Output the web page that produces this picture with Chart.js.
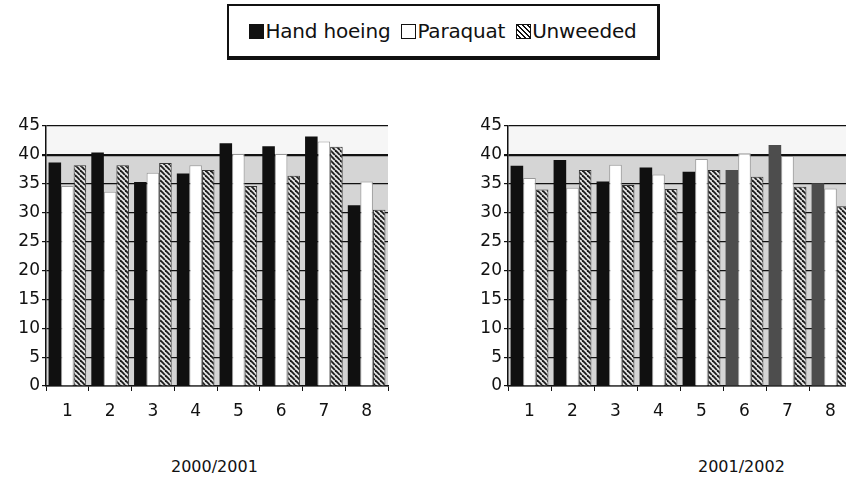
<!DOCTYPE html>
<html>
<head>
<meta charset="utf-8">
<script src="https://cdn.jsdelivr.net/npm/chart.js@4"></script>
<style>
  html, body { margin: 0; padding: 0; background: #fff; width: 846px; height: 484px; overflow: hidden; }
  body { position: relative; font-family: "DejaVu Sans", sans-serif; color: #111; }
  .wrap { position: absolute; }
  #legend {
    position: absolute; left: 227px; top: 4px; width: 428px; height: 50px;
    border: 2px solid #111; border-bottom-width: 4px; border-right-width: 3px;
    display: flex; align-items: center; justify-content: center;
    font-size: 20px; white-space: nowrap; background: #fff; letter-spacing: -0.2px;
  }
  #legend span.k { display: inline-block; width: 15px; height: 15px; margin-right: 1px; box-sizing: border-box; }
  #legend span.t { margin-right: 11px; }
  .k1 { background: #111; }
  .k2 { background: #fff; border: 1.5px solid #111; }
  .k3 { border: 1.5px solid #111; background: repeating-linear-gradient(45deg, #fff 0 2px, #111 2px 3.5px); }
  .yr { position: absolute; top: 457px; font-size: 16px; }
</style>
</head>
<body>
<div id="legend">
  <span class="k k1"></span><span class="t">Hand hoeing</span>
  <span class="k k2"></span><span class="t">Paraquat</span>
  <span class="k k3"></span><span class="t" style="margin-right:0">Unweeded</span>
</div>
<div class="wrap" style="left:0px;top:110px;width:392px;height:320px;"><canvas id="c1"></canvas></div>
<div class="wrap" style="left:462px;top:110px;width:400px;height:320px;"><canvas id="c2"></canvas></div>
<div class="yr" style="left:171px;">2000/2001</div>
<div class="yr" style="left:698px;">2001/2002</div>
<script>
const categories = ["1", "2", "3", "4", "5", "6", "7", "8"];
const seriesNames = ["Hand hoeing", "Paraquat", "Unweeded"];
const yTicks = [0, 5, 10, 15, 20, 25, 30, 35, 40, 45];

// 2000/2001
const hand2000 = [38.7, 40.4, 35.3, 36.8, 42.0, 41.5, 43.2, 31.3];
const paraquat2000 = [34.6, 33.6, 36.9, 38.2, 40.2, 40.2, 42.3, 35.4];
const unweeded2000 = [38.2, 38.2, 38.6, 37.4, 34.6, 36.4, 41.4, 30.5];

// 2001/2002
const hand2001 = [38.1, 39.1, 35.4, 37.8, 37.1, 37.4, 41.7, 35.1];
const paraquat2001 = [36.0, 34.3, 38.3, 36.6, 39.3, 40.3, 39.8, 34.2];
const unweeded2001 = [34.0, 37.4, 34.8, 34.1, 37.4, 36.2, 34.5, 31.1];

function hatch() {
    const c = document.createElement("canvas");
    c.width = 5;
    c.height = 5;
    const g = c.getContext("2d");
    g.fillStyle = "#e4e4e4";
    g.fillRect(0, 0, 5, 5);
    g.strokeStyle = "#1a1a1a";
    g.lineWidth = 1.8;
    for (let x = -5; x <= 5; x += 5) {
        g.beginPath();
        g.moveTo(x, 0);
        g.lineTo(x + 5, 5);
        g.stroke();
    }
    return g.createPattern(c, "repeat");
}

const wallPlugin = {
    id: "wall",
    beforeDraw(chart) {
        const a = chart.chartArea;
        const y = chart.scales.y;
        const ctx = chart.ctx;
        const y40 = y.getPixelForValue(40);
        ctx.save();
        ctx.fillStyle = "#f6f6f6";
        ctx.fillRect(a.left, a.top, a.width, y40 - a.top);
        ctx.fillStyle = "#d5d5d5";
        ctx.fillRect(a.left, y40, a.width, a.bottom - y40);
        ctx.restore();
    },
};

function makeChart(id, hand, paraquat, unweeded, fadeFrom, padRight) {
    const darkColor = (ctx) => (ctx.dataIndex >= fadeFrom ? "#4d4d4d" : "#101010");
    new Chart(document.getElementById(id), {
        type: "bar",
        data: {
            labels: categories,
            datasets: [
                { label: seriesNames[0], data: hand, backgroundColor: darkColor, borderWidth: 0 },
                { label: seriesNames[1], data: paraquat, backgroundColor: "#ffffff", borderColor: "#9a9a9a", borderWidth: 1 },
                { label: seriesNames[2], data: unweeded, backgroundColor: hatch(), borderColor: "#333", borderWidth: 1 },
            ],
        },
        options: {
            responsive: true,
            maintainAspectRatio: false,
            animation: false,
            layout: { padding: { top: 16, right: padRight, left: 0, bottom: 0 } },
            datasets: { bar: { categoryPercentage: 0.88, barPercentage: 1.0 } },
            plugins: { legend: { display: false }, tooltip: { enabled: false } },
            scales: {
                x: {
                    grid: { display: true, drawOnChartArea: false, color: "#111", tickLength: 5 },
                    border: { color: "#111", width: 1.5 },
                    ticks: { color: "#111", padding: 10, font: { family: "DejaVu Sans", size: 17 } },
                    afterFit: (scale) => { scale.height = 44; },
                },
                y: {
                    min: 0,
                    max: 45,
                    afterBuildTicks: (scale) => { scale.ticks = yTicks.map((v) => ({ value: v })); },
                    grid: {
                        color: "#111",
                        tickLength: 4,
                        lineWidth: (ctx) => (ctx.tick && ctx.tick.value === 40 ? 2.2 : 1.2),
                    },
                    border: { color: "#111", width: 1.5 },
                    ticks: { color: "#111", padding: 2, font: { family: "DejaVu Sans", size: 17 } },
                    afterFit: (scale) => { scale.width = 46; },
                },
            },
        },
        plugins: [wallPlugin],
    });
}

makeChart("c1", hand2000, paraquat2000, unweeded2000, 99, 4);
makeChart("c2", hand2001, paraquat2001, unweeded2001, 5, 10);
</script>
</body>
</html>
